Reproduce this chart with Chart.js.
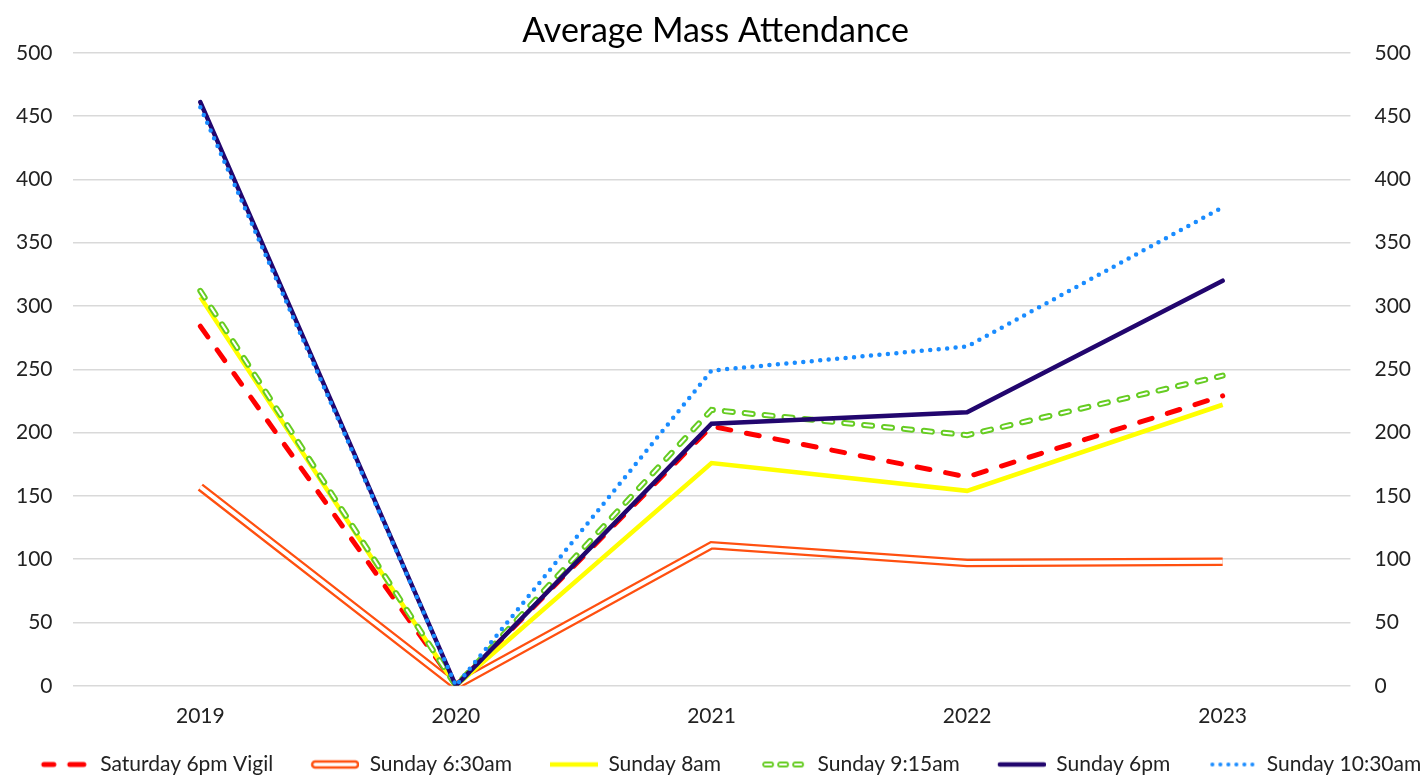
<!DOCTYPE html>
<html>
<head>
<meta charset="utf-8">
<script src="https://cdn.jsdelivr.net/npm/chart.js@4.4.1/dist/chart.umd.min.js"></script>
<style>
  html, body { margin: 0; padding: 0; background: #fff; }
  #wrap { width: 1421px; height: 776px; }
</style>
</head>
<body>
<div id="wrap"><canvas id="chart" width="1421" height="776"></canvas></div>
<script>
// Données
const years = ['2019', '2020', '2021', '2022', '2023'];
const saturdayVigil = [284, 0, 205, 165, 229];
const sunday630 = [157, 0, 111, 97, 98];
const sunday8 = [307, 0, 176, 154, 222];
const sunday915 = [312, 0, 218, 198, 245];
const sunday6pm = [461, 0, 207, 216, 320];
const sunday1030 = [457, 0, 249, 268, 378];
const yTicks = [0, 50, 100, 150, 200, 250, 300, 350, 400, 450, 500];

const FONT = 'Lato, "Open Sans", sans-serif';
const ICON_W = 80;

// Petits symboles pour la légende (le trait est à droite du canvas)
function legendIcon(draw) {
    const c = document.createElement('canvas');
    c.width = ICON_W; c.height = 14;
    const g = c.getContext('2d');
    g.translate(ICON_W - 50, 0);
    g.lineCap = 'round';
    draw(g);
    return c;
}

const icons = [
    legendIcon(g => {
        g.strokeStyle = '#ff0000'; g.lineWidth = 5;
        g.beginPath(); g.moveTo(4, 7); g.lineTo(14, 7); g.moveTo(30, 7); g.lineTo(44, 7); g.stroke();
    }),
    legendIcon(g => {
        g.strokeStyle = '#ff5010'; g.lineWidth = 2.5;
        g.beginPath(); g.roundRect(3, 4, 46, 6, 3); g.stroke();
    }),
    legendIcon(g => {
        g.strokeStyle = '#ffff00'; g.lineWidth = 4.5; g.lineCap = 'butt';
        g.beginPath(); g.moveTo(2, 7); g.lineTo(50, 7); g.stroke();
    }),
    legendIcon(g => {
        g.strokeStyle = '#66cc22'; g.lineWidth = 1.8;
        for (let i = 0; i < 3; i++) { g.beginPath(); g.roundRect(6 + i * 15, 5, 10, 4, 2); g.stroke(); }
    }),
    legendIcon(g => {
        g.strokeStyle = '#22066e'; g.lineWidth = 4.5;
        g.beginPath(); g.moveTo(4, 7); g.lineTo(48, 7); g.stroke();
    }),
    legendIcon(g => {
        g.fillStyle = '#1a8cff';
        for (let i = 0; i < 6; i++) { g.beginPath(); g.arc(6 + i * 8, 7, 2, 0, Math.PI * 2); g.fill(); }
    })
];

function line(label, data, color, width, dash, order, extra) {
    return Object.assign({
        label: label,
        data: data,
        borderColor: color,
        backgroundColor: color,
        borderWidth: width,
        borderDash: dash,
        pointRadius: 0,
        tension: 0,
        fill: false,
        order: order,
        yAxisID: 'y'
    }, extra || {});
}

const datasets = [
    line('Saturday 6pm Vigil', saturdayVigil, '#ff0000', 5, [13, 16], 20, { borderCapStyle: 'round' }),
    line('Sunday 6:30am', sunday630, '#ff5010', 8.5, [], 18),
    line('', sunday630, '#ffffff', 4, [], 17, { isOverlay: true }),
    line('Sunday 8am', sunday8, '#ffff00', 4.5, [], 16),
    line('Sunday 9:15am', sunday915, '#66cc22', 6, [8, 12], 14, { borderCapStyle: 'round' }),
    line('', sunday915, '#ffffff', 2, [8, 12], 13, { isOverlay: true, borderCapStyle: 'round' }),
    line('Sunday 6pm', sunday6pm, '#22066e', 4.5, [], 12, { borderCapStyle: 'round' }),
    line('Sunday 10:30am', sunday1030, '#1a8cff', 4.5, [0, 8.5], 10, { borderCapStyle: 'round' })
];

const tickFont = { family: FONT, size: 21 };

const ctx = document.getElementById('chart').getContext('2d');
new Chart(ctx, {
    type: 'line',
    data: { labels: years, datasets: datasets },
    options: {
        responsive: false,
        animation: false,
        layout: { padding: { left: -4, right: -14, top: 0, bottom: -9 } },
        plugins: {
            title: {
                display: true,
                text: 'Average Mass Attendance',
                color: '#000',
                font: { family: FONT, size: 34, weight: 'normal' },
                padding: { top: 11, bottom: 1 }
            },
            tooltip: { enabled: false },
            legend: {
                position: 'bottom',
                labels: {
                    usePointStyle: true,
                    pointStyleWidth: ICON_W,
                    color: '#222',
                    font: { family: FONT, size: 21 },
                    padding: 6,
                    sort: (a, b) => a.datasetIndex - b.datasetIndex,
                    generateLabels: chart => {
                        const out = [];
                        let k = 0;
                        chart.data.datasets.forEach((ds, i) => {
                            if (ds.isOverlay) return;
                            out.push({
                                text: ds.label,
                                datasetIndex: i,
                                pointStyle: icons[k++],
                                fontColor: '#222',
                                lineWidth: 0,
                                hidden: false
                            });
                        });
                        return out;
                    }
                }
            }
        },
        scales: {
            x: {
                offset: true,
                grid: { display: false },
                border: { display: false },
                ticks: { color: '#222', font: tickFont, padding: 10 },
                afterFit: axis => { axis.height += 9; }
            },
            y: {
                position: 'left',
                min: 0, max: 500,
                afterBuildTicks: axis => { axis.ticks = yTicks.map(v => ({ value: v })); },
                grid: { color: '#d9d9d9', lineWidth: 1.5, drawTicks: false },
                border: { display: false },
                ticks: { color: '#222', font: tickFont, padding: 20 }
            },
            y2: {
                position: 'right',
                min: 0, max: 500,
                afterBuildTicks: axis => { axis.ticks = yTicks.map(v => ({ value: v })); },
                grid: { display: false, drawTicks: false },
                border: { display: false },
                ticks: { color: '#222', font: tickFont, padding: 24 }
            }
        }
    }
});
</script>
</body>
</html>
